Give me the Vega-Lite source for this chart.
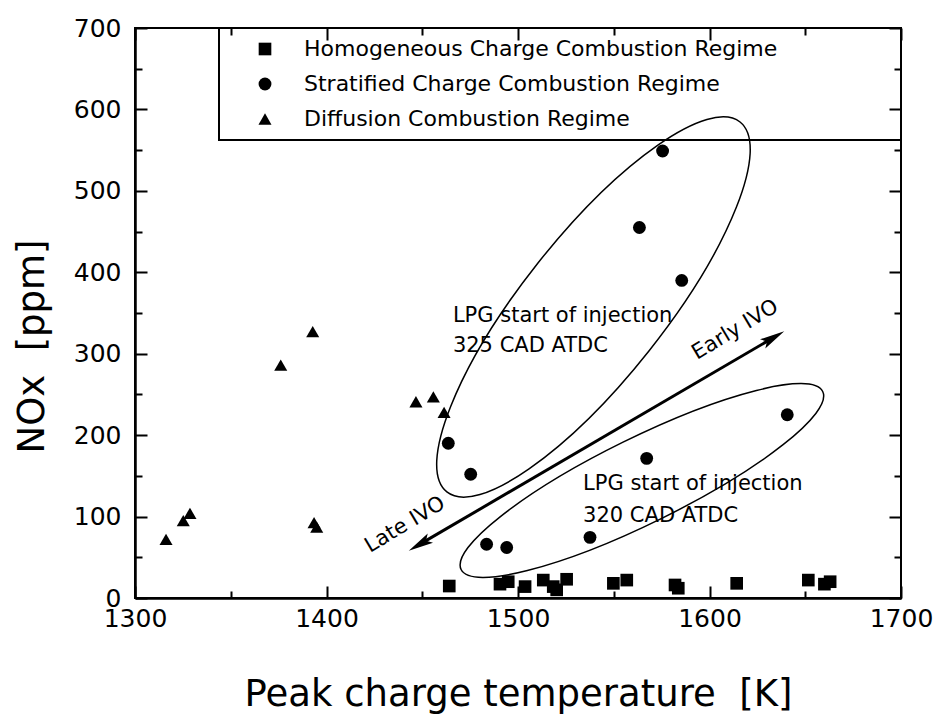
{
  "$schema": "https://vega.github.io/schema/vega-lite/v6.json",
  "width": 766,
  "height": 570,
  "autosize": {"type": "none"},
  "padding": {"left": 135, "top": 28, "right": 38, "bottom": 121},
  "background": "white",
  "config": {
    "view": {"stroke": "black", "strokeWidth": 2},
    "font": "DejaVu Sans",
    "legend": {"strokeWidth": 2}
  },
  "datasets": {
    "points": [
      {"temp": 1316.2, "nox": 72, "regime": "Diffusion Combustion Regime"},
      {"temp": 1325.2, "nox": 95, "regime": "Diffusion Combustion Regime"},
      {"temp": 1328.7, "nox": 104, "regime": "Diffusion Combustion Regime"},
      {"temp": 1376.1, "nox": 286, "regime": "Diffusion Combustion Regime"},
      {"temp": 1392.8, "nox": 327, "regime": "Diffusion Combustion Regime"},
      {"temp": 1393.5, "nox": 92.5, "regime": "Diffusion Combustion Regime"},
      {"temp": 1394.9, "nox": 87, "regime": "Diffusion Combustion Regime"},
      {"temp": 1446.7, "nox": 241, "regime": "Diffusion Combustion Regime"},
      {"temp": 1455.8, "nox": 247, "regime": "Diffusion Combustion Regime"},
      {"temp": 1461.4, "nox": 228, "regime": "Diffusion Combustion Regime"},
      {"temp": 1463.6, "nox": 190, "regime": "Stratified Charge Combustion Regime"},
      {"temp": 1475.3, "nox": 152, "regime": "Stratified Charge Combustion Regime"},
      {"temp": 1575.5, "nox": 549, "regime": "Stratified Charge Combustion Regime"},
      {"temp": 1563.4, "nox": 455, "regime": "Stratified Charge Combustion Regime"},
      {"temp": 1585.5, "nox": 390, "regime": "Stratified Charge Combustion Regime"},
      {"temp": 1640.6, "nox": 225, "regime": "Stratified Charge Combustion Regime"},
      {"temp": 1567.2, "nox": 171.5, "regime": "Stratified Charge Combustion Regime"},
      {"temp": 1483.6, "nox": 66, "regime": "Stratified Charge Combustion Regime"},
      {"temp": 1494.1, "nox": 62, "regime": "Stratified Charge Combustion Regime"},
      {"temp": 1537.6, "nox": 74.5, "regime": "Stratified Charge Combustion Regime"},
      {"temp": 1464.1, "nox": 14.7, "regime": "Homogeneous Charge Combustion Regime"},
      {"temp": 1490.6, "nox": 17, "regime": "Homogeneous Charge Combustion Regime"},
      {"temp": 1494.9, "nox": 20, "regime": "Homogeneous Charge Combustion Regime"},
      {"temp": 1503.7, "nox": 14, "regime": "Homogeneous Charge Combustion Regime"},
      {"temp": 1513.2, "nox": 22, "regime": "Homogeneous Charge Combustion Regime"},
      {"temp": 1518.4, "nox": 14, "regime": "Homogeneous Charge Combustion Regime"},
      {"temp": 1520.2, "nox": 10, "regime": "Homogeneous Charge Combustion Regime"},
      {"temp": 1525.4, "nox": 23, "regime": "Homogeneous Charge Combustion Regime"},
      {"temp": 1549.8, "nox": 18, "regime": "Homogeneous Charge Combustion Regime"},
      {"temp": 1556.8, "nox": 22, "regime": "Homogeneous Charge Combustion Regime"},
      {"temp": 1582, "nox": 16, "regime": "Homogeneous Charge Combustion Regime"},
      {"temp": 1583.7, "nox": 12, "regime": "Homogeneous Charge Combustion Regime"},
      {"temp": 1614.2, "nox": 18, "regime": "Homogeneous Charge Combustion Regime"},
      {"temp": 1651.6, "nox": 22, "regime": "Homogeneous Charge Combustion Regime"},
      {"temp": 1660, "nox": 17, "regime": "Homogeneous Charge Combustion Regime"},
      {"temp": 1663, "nox": 20, "regime": "Homogeneous Charge Combustion Regime"}
    ],
    "upperEllipse": [{"temp": 1539.4, "nox": 357.4}],
    "lowerEllipse": [{"temp": 1564.7, "nox": 144.3}],
    "arrow": [{"temp": 1448.6, "nox": 65.8, "temp2": 1633.4, "nox2": 319.8}],
    "notes": [
      {"temp": 1466, "nox": 339, "note": "LPG start of injection"},
      {"temp": 1466, "nox": 302, "note": "325 CAD ATDC"},
      {"temp": 1534, "nox": 132.6, "note": "LPG start of injection"},
      {"temp": 1534, "nox": 93.3, "note": "320 CAD ATDC"}
    ],
    "ivo": [
      {"temp": 1593.5, "nox": 292.3, "note": "Early IVO"},
      {"temp": 1422.7, "nox": 55.3, "note": "Late IVO"}
    ]
  },
  "layer": [
    {
      "data": {"name": "upperEllipse"},
      "mark": {
        "type": "point",
        "filled": false,
        "opacity": 1,
        "stroke": "black",
        "strokeWidth": 1.5,
        "shape": "M -1 0 C -1 -0.1657 -0.5523 -0.3 0 -0.3 C 0.5523 -0.3 1 -0.1657 1 0 C 1 0.1657 0.5523 0.3 0 0.3 C -0.5523 0.3 -1 0.1657 -1 0 Z",
        "size": 222784,
        "angle": -51.6
      },
      "encoding": {
        "x": {"field": "temp", "type": "quantitative"},
        "y": {"field": "nox", "type": "quantitative"}
      }
    },
    {
      "data": {"name": "lowerEllipse"},
      "mark": {
        "type": "point",
        "filled": false,
        "opacity": 1,
        "stroke": "black",
        "strokeWidth": 1.5,
        "shape": "M -1 0 C -1 -0.1171 -0.5523 -0.212 0 -0.212 C 0.5523 -0.212 1 -0.1171 1 0 C 1 0.1171 0.5523 0.212 0 0.212 C -0.5523 0.212 -1 0.1171 -1 0 Z",
        "size": 162409,
        "angle": -26.2
      },
      "encoding": {
        "x": {"field": "temp", "type": "quantitative"},
        "y": {"field": "nox", "type": "quantitative"}
      }
    },
    {
      "data": {"name": "arrow"},
      "mark": {"type": "rule", "color": "black", "strokeWidth": 3},
      "encoding": {
        "x": {"field": "temp", "type": "quantitative"},
        "y": {"field": "nox", "type": "quantitative"},
        "x2": {"field": "temp2"},
        "y2": {"field": "nox2"}
      }
    },
    {
      "data": {"name": "arrow"},
      "mark": {
        "type": "point",
        "filled": true,
        "opacity": 1,
        "color": "black",
        "shape": "M 1 0 L -1 -0.42 L -0.6 0 L -1 0.42 Z",
        "size": 625,
        "angle": -30.3
      },
      "encoding": {
        "x": {"field": "temp2", "type": "quantitative"},
        "y": {"field": "nox2", "type": "quantitative"}
      }
    },
    {
      "data": {"name": "arrow"},
      "mark": {
        "type": "point",
        "filled": true,
        "opacity": 1,
        "color": "black",
        "shape": "M 1 0 L -1 -0.42 L -0.6 0 L -1 0.42 Z",
        "size": 625,
        "angle": 149.7
      },
      "encoding": {
        "x": {"field": "temp", "type": "quantitative"},
        "y": {"field": "nox", "type": "quantitative"}
      }
    },
    {
      "data": {"name": "notes"},
      "mark": {"type": "text", "align": "left", "baseline": "alphabetic", "fontSize": 21, "font": "DejaVu Sans", "color": "black"},
      "encoding": {
        "x": {"field": "temp", "type": "quantitative"},
        "y": {"field": "nox", "type": "quantitative"},
        "text": {"field": "note"}
      }
    },
    {
      "data": {"name": "ivo"},
      "mark": {"type": "text", "align": "left", "baseline": "alphabetic", "fontSize": 21, "font": "DejaVu Sans", "color": "black", "angle": -31},
      "encoding": {
        "x": {"field": "temp", "type": "quantitative"},
        "y": {"field": "nox", "type": "quantitative"},
        "text": {"field": "note"}
      }
    },
    {
      "data": {"name": "points"},
      "mark": {"type": "point", "filled": true, "opacity": 1, "color": "black"},
      "encoding": {
        "x": {
          "field": "temp",
          "type": "quantitative",
          "title": "Peak charge temperature\u00a0\u00a0[K]",
          "scale": {"domain": [1300, 1700], "nice": false, "zero": false},
          "axis": {
            "values": [1300, 1350, 1400, 1450, 1500, 1550, 1600, 1650, 1700],
            "format": "d",
            "labelExpr": "datum.value % 100 === 0 ? datum.label : ''",
            "labelFont": "DejaVu Sans",
            "labelFontSize": 25,
            "labelColor": "black",
            "labelFlush": false,
            "labelOverlap": false,
            "labelPadding": 8,
            "ticks": false,
            "grid": true,
            "gridColor": "black",
            "gridOpacity": 1,
            "gridWidth": 2,
            "gridDash": {"condition": {"test": "datum.value % 100 === 0", "value": [12, 546, 12]}, "value": [7, 556, 7]},
            "domainColor": "black",
            "domainWidth": 2.5,
            "titleFont": "DejaVu Sans",
            "titleFontSize": 37,
            "titleFontWeight": "normal",
            "titleColor": "black",
            "titleY": 107,
            "titleBaseline": "alphabetic"
          }
        },
        "y": {
          "field": "nox",
          "type": "quantitative",
          "title": "NOx\u00a0\u00a0[ppm]",
          "scale": {"domain": [0, 700], "nice": false},
          "axis": {
            "values": [0, 50, 100, 150, 200, 250, 300, 350, 400, 450, 500, 550, 600, 650, 700],
            "format": "d",
            "labelExpr": "datum.value % 100 === 0 ? datum.label : ''",
            "labelFont": "DejaVu Sans",
            "labelFontSize": 25,
            "labelColor": "black",
            "labelFlush": false,
            "labelOverlap": false,
            "labelPadding": 14,
            "ticks": false,
            "grid": true,
            "gridColor": "black",
            "gridOpacity": 1,
            "gridWidth": 2,
            "gridDash": {"condition": {"test": "datum.value % 100 === 0", "value": [12, 742, 12]}, "value": [7, 752, 7]},
            "domainColor": "black",
            "domainWidth": 2.5,
            "titleFont": "DejaVu Sans",
            "titleFontSize": 37,
            "titleFontWeight": "normal",
            "titleColor": "black",
            "titleAngle": -90,
            "titleX": -92,
            "titleY": 318,
            "titleAlign": "center",
            "titleBaseline": "alphabetic"
          }
        },
        "shape": {
          "field": "regime",
          "type": "nominal",
          "scale": {
            "domain": ["Homogeneous Charge Combustion Regime", "Stratified Charge Combustion Regime", "Diffusion Combustion Regime"],
            "range": ["square", "circle", "triangle-up"]
          },
          "legend": {
            "orient": "none",
            "legendX": 84,
            "legendY": 0,
            "title": "\u00a0",
            "titleOrient": "right",
            "titlePadding": 114,
            "titleFontSize": 22,
            "strokeColor": "black",
            "padding": 10,
            "rowPadding": 13,
            "symbolOffset": 25,
            "labelOffset": 28,
            "symbolSize": 140,
            "symbolFillColor": "black",
            "symbolStrokeColor": "black",
            "labelFont": "DejaVu Sans",
            "labelFontSize": 22,
            "labelColor": "black",
            "labelLimit": 800
          }
        },
        "size": {
          "field": "regime",
          "type": "nominal",
          "scale": {
            "domain": ["Homogeneous Charge Combustion Regime", "Stratified Charge Combustion Regime", "Diffusion Combustion Regime"],
            "range": [160, 170, 450]
          }
        }
      }
    }
  ]
}
